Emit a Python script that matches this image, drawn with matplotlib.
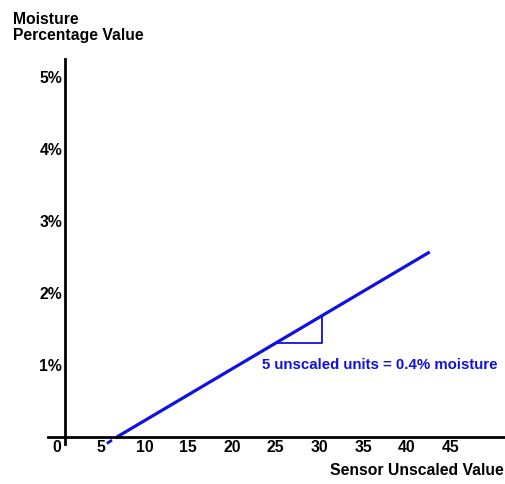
import numpy as np
import matplotlib
matplotlib.use("Agg")
import matplotlib.pyplot as plt

plt.rcParams['font.family'] = ['Liberation Sans', 'DejaVu Sans']
plt.rcParams['font.weight'] = 'bold'

# data
x_ticks = [0, 5, 10, 15, 20, 25, 30, 35, 40, 45]
y_ticks = [1, 2, 3, 4, 5]
y_tick_labels = ['1%', '2%', '3%', '4%', '5%']

# calibration line: sensor value -> moisture %
line_x = [6.85, 42.6]
line_y = [0.0, 2.57]
# dashed part below zero
dash_x = [5.7, 6.85]
dash_y = [-0.09, 0.0]
# slope triangle: 5 unscaled units
tri_x = [25, 30.3]
note = '5 unscaled units = 0.4% moisture'

blue = '#1010e0'

fig = plt.figure(figsize=(5.05, 4.84), dpi=100)
ax = fig.add_axes([0, 0, 1, 1])
ax.set_xlim(-6.51, 51.2)
ax.set_ylim(-0.653, 6.07)

ax.plot(line_x, line_y, color=blue, lw=2.3, solid_capstyle='butt')
ax.plot(dash_x, dash_y, color=blue, lw=2.0, ls=(0, (2.2, 1.4)))

slope = (line_y[1] - line_y[0]) / (line_x[1] - line_x[0])
ty0 = line_y[0] + slope * (tri_x[0] - line_x[0])
ty1 = line_y[0] + slope * (tri_x[1] - line_x[0])
ax.plot([tri_x[0], tri_x[1], tri_x[1]], [ty0, ty0, ty1], color=blue, lw=1.3)
ax.text(23.4, 1.0, note, color=blue, fontsize=10.8, fontweight='bold',
        ha='left', va='center')

# axes lines
for s in ['top', 'right']:
    ax.spines[s].set_visible(False)
ax.spines['bottom'].set_position(('data', 0))
ax.spines['left'].set_position(('data', 0.9))
ax.spines['bottom'].set_bounds(-1.0, 51.2)
ax.spines['left'].set_bounds(-0.1, 5.25)
ax.spines['bottom'].set_linewidth(2.0)
ax.spines['left'].set_linewidth(2.0)

ax.set_xticks(x_ticks)
ax.set_xticklabels([str(v) for v in x_ticks], fontsize=11.3, fontweight='bold')
ax.set_yticks(y_ticks)
ax.set_yticklabels(y_tick_labels, fontsize=11.3, fontweight='bold')
ax.tick_params(axis='both', length=0)
ax.tick_params(axis='x', pad=2.0)
ax.tick_params(axis='y', pad=2)

fig.text(0.026, 0.976, 'Moisture\nPercentage Value', fontsize=11.3, fontweight='bold',
         ha='left', va='top', linespacing=1.1)
fig.text(0.998, 0.012, 'Sensor Unscaled Value', fontsize=11.3, fontweight='bold',
         ha='right', va='bottom')

fig.savefig('out.png', dpi=100)
